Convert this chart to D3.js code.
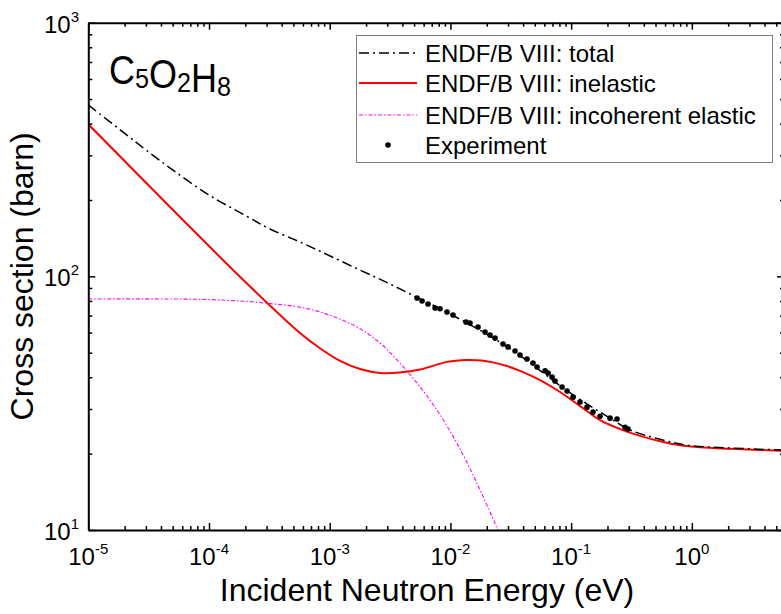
<!DOCTYPE html>
<html>
<head>
<meta charset="utf-8">
<script src="https://cdn.jsdelivr.net/npm/d3@7"></script>
<style>
  body { margin: 0; background: #fff; }
  svg { display: block; overflow: hidden; font-family: "Liberation Sans", Arial, sans-serif; }
</style>
</head>
<body>
<svg width="781" height="614"></svg>
<script>
// values: [energy eV, cross section barn]
const total = [
  [1e-5, 474], [2e-5, 366.4], [3e-5, 315], [5e-5, 262.7], [1e-4, 209.3], [2e-4, 173.8],
  [3.08e-4, 155.1], [5.67e-4, 136.6], [9.68e-4, 121.4], [1.78e-3, 105.9], [3.04e-3, 94.1],
  [5.3e-3, 82.5], [1e-2, 71], [3e-2, 52.5], [0.1, 34.5], [0.2, 28], [0.3075, 24.8],
  [0.545, 22.8], [0.9, 21.6], [2.07, 21.05], [5.8, 20.66]
];
const inelastic = [
  [1e-5, 397.6], [5.53e-5, 174.6], [2e-4, 95.0], [5.67e-4, 59.8],
  [8.47e-4, 51.7], [1.217e-3, 46.4], [1.782e-3, 43.1], [2.61e-3, 41.6], [3.82e-3, 41.8],
  [5.6e-3, 42.9], [9.37e-3, 46.0], [1.372e-2, 46.8], [1.8e-2, 46.6], [2.25e-2, 45.8],
  [2.944e-2, 44.3], [3.77e-2, 42.4], [5.52e-2, 39.0], [8.09e-2, 35.0], [0.1186, 30.8],
  [0.1735, 27.1], [0.2542, 25.0], [0.3724, 23.5], [0.5452, 22.4], [0.799, 21.6],
  [1.17, 21.2], [2.07, 20.9], [5.8, 20.5]
];
const incoherent = [
  [1e-5, 81.4], [1e-4, 81.0], [2.91e-4, 78.5], [7.27e-4, 73.7], [1.62e-3, 63.7],
  [2.61e-3, 54.6], [3.61e-3, 46.8], [4.9e-3, 39.7], [6.78e-3, 32.5], [9.37e-3, 25.7],
  [1.272e-2, 19.8], [1.759e-2, 14.4], [2.43e-2, 10.2], [3.12e-2, 7.76]
];
const experiment = [
  [5.29e-3, 82.2], [5.82e-3, 79.95], [6.52e-3, 77.8], [7.46e-3, 75.0], [8.2e-3, 74.5],
  [9.37e-3, 72.4], [1.051e-2, 70.4], [1.346e-2, 66.1], [1.453e-2, 65.5], [1.693e-2, 63.1],
  [1.935e-2, 60.3], [2.128e-2, 58.7], [2.342e-2, 57.1], [2.727e-2, 54.1], [3.0e-2, 52.7],
  [3.43e-2, 50.8], [3.77e-2, 49.0], [4.31e-2, 47.2], [4.83e-2, 45.5], [5.22e-2, 43.9],
  [6.08e-2, 42.4], [6.44e-2, 41.6], [6.95e-2, 40.1], [7.35e-2, 38.7], [8.41e-2, 36.6],
  [9.25e-2, 35.3], [0.1037, 33.4], [0.1185, 31.96], [0.1354, 30.5], [0.1518, 29.2],
  [0.1735, 28.1], [0.21, 27.6], [0.24, 27.4], [0.2796, 25.4], [0.296, 25.0]
];
const xTickExp = ["-5", "-4", "-3", "-2", "-1", "0"];
const yTickExp = ["1", "2", "3"];
const legendLabels = ["ENDF/B VIII: total", "ENDF/B VIII: inelastic",
  "ENDF/B VIII: incoherent elastic", "Experiment"];
const formulaParts = [["C", "5"], ["O", "2"], ["H", "8"]];

const svg = d3.select("svg");
const mLeft = 88.3, mRight = 784, mTop = 22.7, mBottom = 530;

const x = d3.scaleLog().domain([1e-5, 5.8]).range([mLeft, mRight]);
const y = d3.scaleLog().domain([10, 1000]).range([mBottom, mTop]);

const isMajor = d => Math.abs(Math.log10(d) - Math.round(Math.log10(d))) < 1e-6;

svg.append("defs").append("clipPath").attr("id", "plot")
  .append("rect").attr("x", mLeft).attr("y", mTop)
  .attr("width", mRight - mLeft).attr("height", mBottom - mTop);

const line = d3.line()
  .x(d => x(d[0]))
  .y(d => y(d[1]))
  .curve(d3.curveCatmullRom.alpha(0.5));

const totalDash = "10,4,2,4";
const elasticDash = "4,2,1.5,2";

const plot = svg.append("g").attr("clip-path", "url(#plot)");

plot.append("path").datum(incoherent)
  .attr("d", line).attr("fill", "none")
  .attr("stroke", "#ff00ff").attr("stroke-width", 1.1)
  .attr("stroke-dasharray", elasticDash);

plot.append("path").datum(inelastic)
  .attr("d", line).attr("fill", "none")
  .attr("stroke", "#ff0000").attr("stroke-width", 2);

plot.append("path").datum(total)
  .attr("d", line).attr("fill", "none")
  .attr("stroke", "#000").attr("stroke-width", 1.5)
  .attr("stroke-dasharray", totalDash);

plot.selectAll("circle").data(experiment).join("circle")
  .attr("cx", d => x(d[0])).attr("cy", d => y(d[1]))
  .attr("r", 2.8).attr("fill", "#000");

// axes with inward ticks
function styleAxis(g, attr, major, minor) {
  g.select(".domain").attr("stroke-width", 2);
  g.selectAll(".tick line")
    .attr(attr, d => isMajor(d) ? major : minor)
    .attr("stroke-width", 1.5);
}

svg.append("g").attr("transform", "translate(0," + mBottom + ")")
  .call(d3.axisBottom(x).tickValues(x.ticks()).tickFormat("").tickSizeOuter(0))
  .call(g => styleAxis(g, "y2", -7, -4));
svg.append("g").attr("transform", "translate(0," + mTop + ")")
  .call(d3.axisTop(x).tickValues(x.ticks()).tickFormat("").tickSizeOuter(0))
  .call(g => styleAxis(g, "y2", 7, 4));
svg.append("g").attr("transform", "translate(" + mLeft + ",0)")
  .call(d3.axisLeft(y).tickValues(y.ticks()).tickFormat("").tickSizeOuter(0))
  .call(g => styleAxis(g, "x2", 7, 4));
svg.append("g").attr("transform", "translate(" + mRight + ",0)")
  .call(d3.axisRight(y).tickValues(y.ticks()).tickFormat("").tickSizeOuter(0))
  .call(g => styleAxis(g, "x2", -7, -4));

// tick labels as 10^n
const xMajor = x.ticks().filter(isMajor);
xMajor.forEach((d, i) => {
  const t = svg.append("text")
    .attr("x", x(d)).attr("y", 565)
    .attr("text-anchor", "middle").attr("font-size", 24);
  t.append("tspan").text("10");
  t.append("tspan").attr("dy", -11).attr("font-size", 15).text(xTickExp[i]);
});

const yMajor = y.ticks().filter(isMajor);
yMajor.forEach((d, i) => {
  const t = svg.append("text")
    .attr("x", 79).attr("y", y(d) + 10)
    .attr("text-anchor", "end").attr("font-size", 24);
  t.append("tspan").text("10");
  t.append("tspan").attr("dy", -11).attr("font-size", 15).text(yTickExp[i]);
});

// axis titles
svg.append("text")
  .attr("x", 427).attr("y", 601)
  .attr("text-anchor", "middle").attr("font-size", 32)
  .text("Incident Neutron Energy (eV)");

svg.append("text")
  .attr("transform", "translate(33," + (mTop + mBottom) / 2 + ") rotate(-90)")
  .attr("text-anchor", "middle").attr("font-size", 32)
  .text("Cross section (barn)");

// formula label
const formula = svg.append("text")
  .attr("transform", "translate(109,84) scale(0.9,1)")
  .attr("font-size", 40);
formulaParts.forEach(p => {
  formula.append("tspan").text(p[0]);
  formula.append("tspan").attr("font-size", 28).attr("dy", 4).text(p[1]);
  formula.append("tspan").attr("font-size", 28).attr("dy", -4).text("");
});

// legend
const legend = svg.append("g");
legend.append("rect")
  .attr("x", 356.5).attr("y", 35.5).attr("width", 416).attr("height", 127)
  .attr("fill", "#fff").attr("stroke", "#7f7f7f").attr("stroke-width", 1);

const rows = [53, 83, 115, 145];
const styles = [
  { stroke: "#000", width: 1.5, dash: totalDash },
  { stroke: "#ff0000", width: 2, dash: null },
  { stroke: "#ff00ff", width: 1.1, dash: elasticDash }
];
styles.forEach((s, i) => {
  legend.append("line")
    .attr("x1", 359).attr("x2", 417).attr("y1", rows[i]).attr("y2", rows[i])
    .attr("stroke", s.stroke).attr("stroke-width", s.width)
    .attr("stroke-dasharray", s.dash);
});
legend.append("circle").attr("cx", 388).attr("cy", rows[3]).attr("r", 2.8).attr("fill", "#000");

legend.selectAll("text.lab").data(legendLabels).join("text")
  .attr("class", "lab")
  .attr("x", 425).attr("y", (d, i) => rows[i] + 8.5)
  .attr("font-size", 24)
  .text(d => d);
</script>
</body>
</html>
